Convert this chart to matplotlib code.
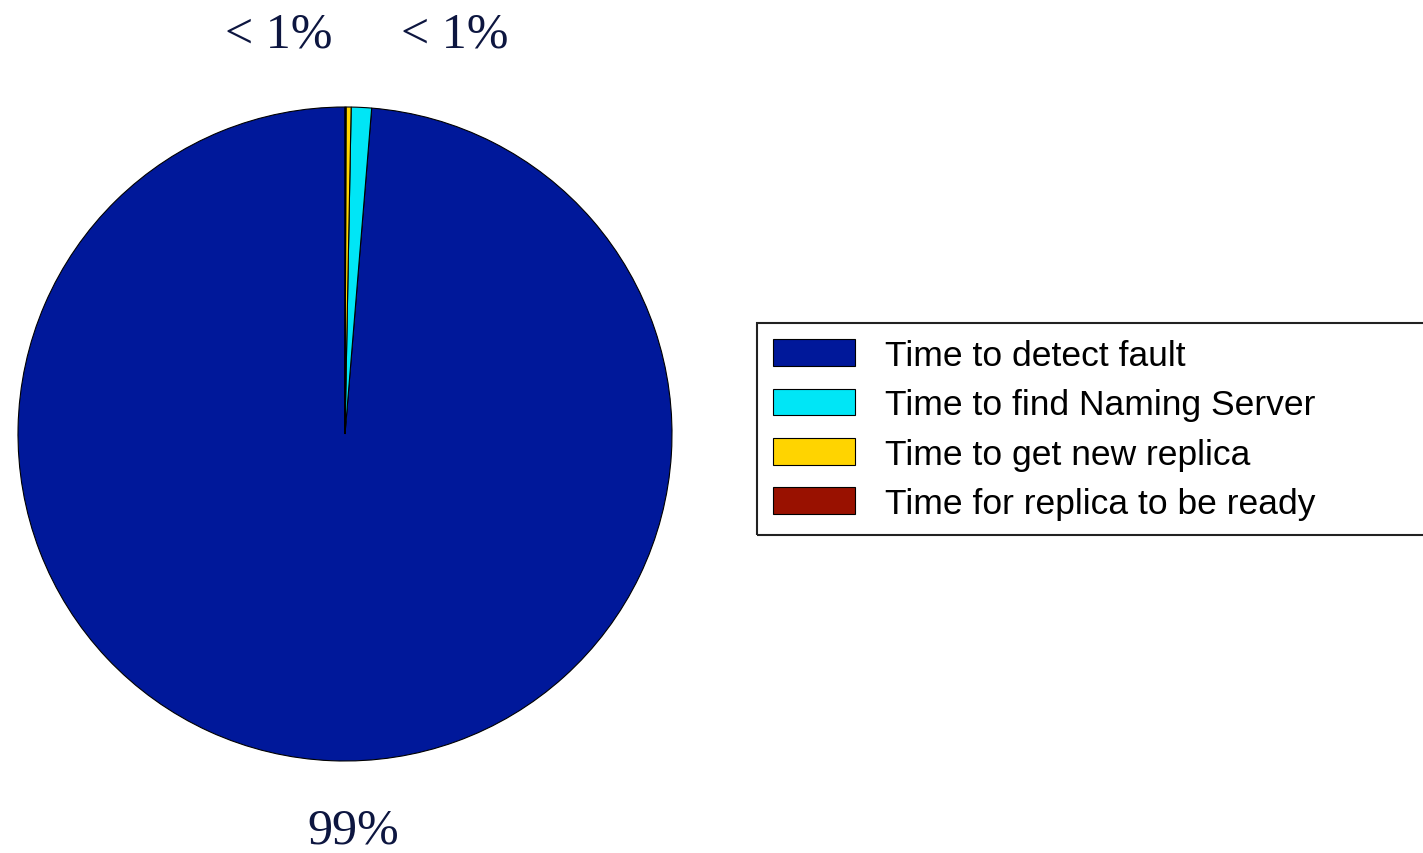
import matplotlib.pyplot as plt
from matplotlib.patches import Rectangle, Patch

W, H = 1423, 854

components = ['Time to detect fault', 'Time to find Naming Server',
              'Time to get new replica', 'Time for replica to be ready']
shares = [98.7, 1.0, 0.25, 0.05]
colors = ['#00189A', '#00E6F6', '#FFD400', '#991100']

label_texts = ['< 1%', '< 1%', '99%']
label_xy = [(-0.203, 1.222), (0.336, 1.222), (0.026, -1.211)]


def main():
    fig = plt.figure(figsize=(W / 100, H / 100), dpi=100)
    fig.patch.set_facecolor('white')

    # pie centre ~ (345, 435) px, radius ~327 px
    cx, cy, r = 345, 435, 327
    ax = fig.add_axes([(cx - r) / W, (H - cy - r) / H, 2 * r / W, 2 * r / H])
    ax.pie(shares, colors=colors, startangle=90, counterclock=True,
           wedgeprops=dict(edgecolor='black', linewidth=0.8))
    ax.set_xlim(-1, 1)
    ax.set_ylim(-1, 1)
    ax.set_aspect('equal')

    for txt, (x, y) in zip(label_texts, label_xy):
        ax.text(x, y, txt, ha='center', va='center', fontsize=36,
                family='Liberation Serif', color='#0D1640', clip_on=False)

    # legend frame, running off the right edge
    fig.patches.append(Rectangle((757 / W, 1 - 536 / H), (W + 10 - 757) / W,
                                 (536 - 324) / H, transform=fig.transFigure,
                                 fill=False, edgecolor='#222222', linewidth=1.5))

    fs = 25.5
    px = fs * 100 / 72
    handles = [Patch(facecolor=c, edgecolor='black', linewidth=0.8) for c in colors]
    fig.legend(handles, components, loc='upper left',
               bbox_to_anchor=(773 / W, 1 - 340 / H), frameon=False,
               borderpad=0, borderaxespad=0,
               prop={'family': 'Liberation Sans', 'size': fs},
               handlelength=82 / px, handleheight=28 / px,
               handletextpad=30 / px, labelspacing=0.46)

    fig.savefig('out.png', dpi=100)


if __name__ == '__main__':
    main()
